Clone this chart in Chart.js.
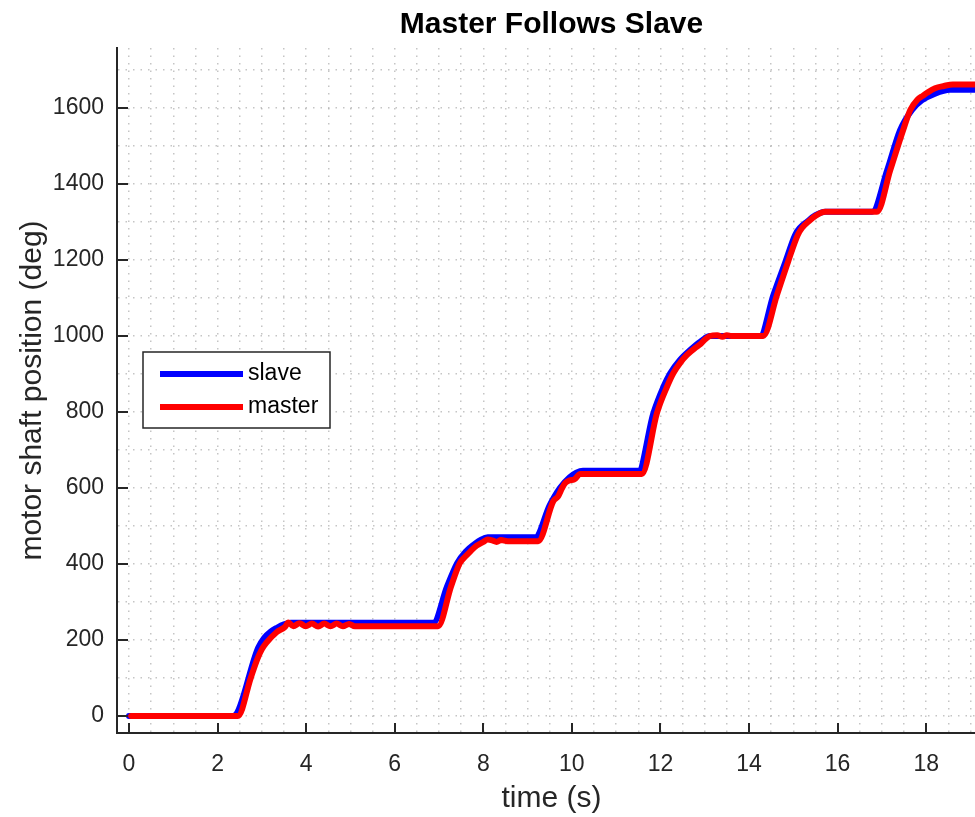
<!DOCTYPE html>
<html>
<head>
<meta charset="utf-8">
<title>Master Follows Slave</title>
<script src="https://cdn.jsdelivr.net/npm/chart.js@4.4.1/dist/chart.umd.min.js"></script>
<style>
  html, body { margin: 0; padding: 0; background: #fff; overflow: hidden; }
  #wrap { width: 990px; height: 817px; }
</style>
</head>
<body>
<div id="wrap"><canvas id="posChart" width="990" height="817"></canvas></div>
<script>
// Slave encoder trace: time (s) and shaft position (deg)
const slaveTime = [
  0, 2.35, 2.92, 3.05, 3.2, 3.34, 3.5, 3.65,
  6.87, 7.18, 7.41, 7.6, 7.8, 7.95, 8.1,
  9.17, 9.5, 9.73, 9.95, 10.1, 10.25,
  11.5, 11.84, 12.07, 12.22, 12.44, 12.67, 12.9, 13.12,
  14.25, 14.55, 14.82, 15.04, 15.15, 15.3, 15.5, 15.72,
  16.78, 17.12, 17.41, 17.68, 17.9, 18.2, 18.54, 19.4
];
const slavePos = [
  0, 0, 180, 205, 222, 232, 241, 245,
  245, 340, 402, 432, 452, 464, 470,
  470, 555, 600, 628, 640, 645,
  645, 797, 867, 902, 937, 963, 985, 1000,
  1000, 1108, 1195, 1266, 1285, 1300, 1318, 1327,
  1327, 1437, 1542, 1595, 1620, 1638, 1648, 1648
];

// Master encoder trace
const masterTime = [
  0.05, 2.46, 2.75, 2.9, 3.0, 3.1, 3.34, 3.52, 3.6, 3.71, 3.85, 3.99, 4.13, 4.27, 4.41, 4.55, 4.69, 4.83, 4.97, 5.1,
  6.98, 7.27, 7.47, 7.6, 7.7, 7.85, 8.0, 8.1, 8.2, 8.3, 8.4, 8.55,
  9.24, 9.58, 9.69, 9.78, 9.85, 9.95, 10.05, 10.19,
  11.58, 11.92, 12.15, 12.29, 12.45, 12.6, 12.78, 12.9, 13.0, 13.12, 13.28, 13.4, 13.5, 13.6,
  14.32, 14.63, 14.88, 15.1, 15.2, 15.35, 15.5, 15.72,
  16.89, 17.19, 17.48, 17.64, 17.8, 17.92, 18.02, 18.2, 18.4, 18.6, 19.4
];
const masterPos = [
  0, 0, 100, 150, 175, 192, 221, 234, 246, 236, 244, 236, 243, 235, 243, 236, 243, 236, 242, 236,
  236, 340, 402, 420, 432, 448, 458, 464, 462, 458, 463, 460,
  460, 565, 578, 600, 613, 620, 622, 637,
  637, 797, 867, 902, 930, 950, 968, 978, 990, 1000, 1002, 998, 1002, 1000,
  1000, 1108, 1195, 1266, 1285, 1302, 1316, 1327,
  1327, 1437, 1542, 1595, 1622, 1632, 1640, 1652, 1658, 1662, 1662
];

// Axis ticks: grid every 0.5 s / 100 deg, labels on the coarser step
const xTicks = [];
for (let t = 0; t <= 19; t += 0.5) xTicks.push(t);
const yTicks = [];
for (let v = 0; v <= 1700; v += 100) yTicks.push(v);
const xLabelStep = 2;
const yLabelStep = 200;

const seriesLabels = ['slave', 'master'];
const seriesColors = ['#0000ff', '#ff0000'];

const INK = '#262626';
const FONT = 'Arial, "Liberation Sans", Helvetica, sans-serif';

const toPoints = (xs, ys) => xs.map((x, i) => ({ x, y: ys[i] }));

// Inward-pointing tick marks on the bottom and left axes
const innerTicks = {
  id: 'innerTicks',
  afterDraw(chart) {
    const { ctx, chartArea, scales } = chart;
    ctx.save();
    ctx.strokeStyle = INK;
    ctx.lineWidth = 2;
    ctx.beginPath();
    xTicks.filter(v => v % xLabelStep === 0).forEach(v => {
      const px = Math.round(scales.x.getPixelForValue(v));
      ctx.moveTo(px, chartArea.bottom);
      ctx.lineTo(px, chartArea.bottom - 10);
    });
    yTicks.filter(v => v % yLabelStep === 0).forEach(v => {
      const py = Math.round(scales.y.getPixelForValue(v));
      ctx.moveTo(chartArea.left, py);
      ctx.lineTo(chartArea.left + 11, py);
    });
    ctx.stroke();
    ctx.restore();
  }
};

// Boxed legend sitting inside the plot area
const boxLegend = {
  id: 'boxLegend',
  afterDraw(chart) {
    const { ctx } = chart;
    const box = { x: 143, y: 352, w: 187, h: 76 };
    ctx.save();
    ctx.fillStyle = '#fff';
    ctx.fillRect(box.x, box.y, box.w, box.h);
    ctx.strokeStyle = INK;
    ctx.lineWidth = 1.5;
    ctx.strokeRect(box.x, box.y, box.w, box.h);
    ctx.font = '23px ' + FONT;
    ctx.textBaseline = 'middle';
    chart.data.datasets.forEach((ds, i) => {
      const cy = 374 + i * 33;
      ctx.strokeStyle = ds.borderColor;
      ctx.lineWidth = 6;
      ctx.beginPath();
      ctx.moveTo(160, cy);
      ctx.lineTo(243, cy);
      ctx.stroke();
      ctx.fillStyle = '#000';
      ctx.fillText(ds.label, 248, cy);
    });
    ctx.restore();
  }
};

// order: lower value is painted later, so master sits on top of slave
const dataset = (i, xs, ys, order) => ({
  label: seriesLabels[i],
  data: toPoints(xs, ys),
  order,
  borderColor: seriesColors[i],
  backgroundColor: seriesColors[i],
  borderWidth: 6,
  pointRadius: 0,
  cubicInterpolationMode: 'monotone',
  borderCapStyle: 'round',
  borderJoinStyle: 'round',
  fill: false
});

const gridOpts = {
  color: 'rgba(150,150,150,0.55)',
  lineWidth: 1.5,
  drawTicks: false
};

new Chart(document.getElementById('posChart').getContext('2d'), {
  type: 'line',
  data: {
    datasets: [
      dataset(0, slaveTime, slavePos, 1),
      dataset(1, masterTime, masterPos, 0)
    ]
  },
  options: {
    responsive: false,
    animation: false,
    layout: { padding: { right: 4, top: 0, left: 0, bottom: 0 } },
    plugins: {
      legend: { display: false },
      tooltip: { enabled: false },
      title: {
        display: true,
        fullSize: false,
        text: 'Master Follows Slave',
        color: '#000',
        font: { family: FONT, size: 30, weight: 'bold' },
        padding: { top: 7, bottom: 5 }
      }
    },
    scales: {
      x: {
        type: 'linear',
        min: -0.27,
        max: 19.35,
        afterBuildTicks: s => { s.ticks = xTicks.map(value => ({ value })); },
        afterFit: s => { s.height = 84; },
        grid: gridOpts,
        border: { display: true, color: INK, width: 2, dash: [1.5, 6] },
        ticks: {
          color: INK,
          font: { family: FONT, size: 23 },
          padding: 18,
          maxRotation: 0,
          autoSkip: false,
          callback: v => (v % xLabelStep === 0 ? String(v) : '')
        },
        title: {
          display: true,
          text: 'time (s)',
          color: INK,
          font: { family: FONT, size: 30 },
          padding: { top: 0, bottom: 0 }
        }
      },
      y: {
        type: 'linear',
        min: -45,
        max: 1758,
        afterBuildTicks: s => { s.ticks = yTicks.map(value => ({ value })); },
        afterFit: s => { s.width = 117; },
        grid: gridOpts,
        border: { display: true, color: INK, width: 2, dash: [1.5, 6] },
        ticks: {
          color: INK,
          font: { family: FONT, size: 23 },
          padding: 13,
          autoSkip: false,
          callback: v => (v % yLabelStep === 0 ? String(v) : '')
        },
        title: {
          display: true,
          text: 'motor shaft position (deg)',
          color: INK,
          font: { family: FONT, size: 30 },
          padding: { top: 15, bottom: 0 }
        }
      }
    }
  },
  plugins: [innerTicks, boxLegend]
});
</script>
</body>
</html>
